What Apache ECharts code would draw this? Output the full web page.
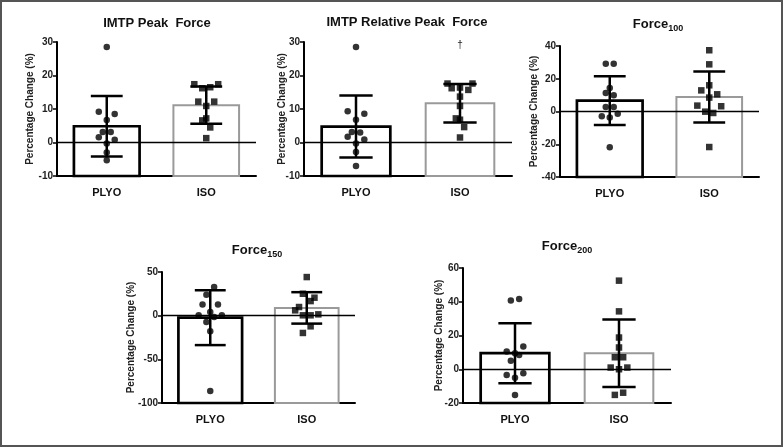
<!DOCTYPE html>
<html>
<head>
<meta charset="utf-8">
<script src="https://cdn.jsdelivr.net/npm/echarts@6/dist/echarts.min.js"></script>
<style>
html,body{margin:0;padding:0;background:#fff;}
#chart{width:783px;height:447px;}
</style>
</head>
<body>
<div id="chart"></div>
<script>
// ---------- DATA ----------
const categories = ['PLYO', 'ISO'];
const yAxisName = 'Percentage Change (%)';

// IMTP Peak Force
const peakTitle = 'IMTP Peak  Force';
const peakAxis = [-10, 30, 10]; // min, max, interval
const peakMeans = [4.85, 11.15];
const peakSd = [9.05, 5.55];
const peakPlyo = [28.5, 9.2, 8.5, 6.7, 3.1, 3.1, 1.6, 0.8, -0.3, -3.0, -5.3];
const peakPlyoJitter = [0, -1, 1, 0, -0.5, 0.5, -1, 1, 0, 0, 0];
const peakIso = [17.4, 17.4, 16.2, 16.5, 12.2, 12.2, 10.9, 7.2, 6.6, 4.5, 1.3];
const peakIsoJitter = [-1.5, 1.5, -0.5, 0.5, -1, 1, 0, 0, -0.5, 0.5, 0];

// IMTP Relative Peak Force
const relTitle = 'IMTP Relative Peak  Force';
const relAxis = [-10, 30, 10];
const relMeans = [4.75, 11.75];
const relSd = [9.25, 5.75];
const relPlyo = [28.5, 9.3, 8.6, 6.8, 3.1, 3.0, 1.7, 0.9, -0.3, -2.8, -7.0];
const relPlyoJitter = [0, -1, 1, 0, -0.5, 0.5, -1, 1, 0, 0, 0];
const relIso = [17.6, 17.6, 16.2, 15.7, 16.4, 13.7, 10.9, 7.2, 6.8, 4.6, 1.5];
const relIsoJitter = [-1.5, 1.5, -1, 1, 0, 0, 0, -0.5, 0, 0.5, 0];
const relMarkText = '†';
const relMark = [1, 28.9]; // category index, value

// Force 100
const f100Title = ['Force', '100'];
const f100Axis = [-40, 40, 20];
const f100Means = [6.6, 8.9];
const f100Sd = [14.9, 15.6];
const f100Plyo = [29.2, 29.2, 14.4, 11.3, 9.9, 2.8, 2.8, -2.9, -1.3, -3.7, -21.9];
const f100PlyoJitter = [-0.5, 0.5, 0, -0.5, 0.5, -0.5, 0.5, -1, 1, 0, 0];
const f100Iso = [37.4, 28.8, 16.0, 12.9, 10.5, 8.5, 3.6, 3.2, -0.1, -0.9, -21.7];
const f100IsoJitter = [0, 0, 0, -1, 1, 0, -1.5, 1.5, -0.5, 0.5, 0];

// Force 150
const f150Title = ['Force', '150'];
const f150Axis = [-100, 50, 50];
const f150Means = [-2.3, 8.9];
const f150Sd = [31.4, 18.0];
const f150Plyo = [32.7, 24.0, 12.9, 12.9, 4.2, 0.4, 0.4, -1.5, -7.2, -17.9, -86.4];
const f150PlyoJitter = [0.5, -0.5, -1, 1, 0, -1.5, 1.5, 0.5, -0.5, 0, 0];
const f150Iso = [44.2, 25.1, 20.6, 16.7, 9.9, 6.1, 0.4, 0.4, 1.5, -12.2, -19.8];
const f150IsoJitter = [0, -0.5, 1, 0.5, -1, -1.5, -0.5, 0.5, 1.5, 0.5, -0.5];

// Force 200
const f200Title = ['Force', '200'];
const f200Axis = [-20, 60, 20];
const f200Means = [9.5, 9.5];
const f200Sd = [17.8, 20.0];
const f200Plyo = [40.8, 41.6, 10.5, 9.5, 13.5, 8.5, 5.0, -3.4, -2.4, -5.0, -15.2];
const f200PlyoJitter = [-0.5, 0.5, -1, 0, 1, 0.5, -0.5, -1, 1, 0, 0];
const f200Iso = [52.5, 34.3, 18.8, 12.9, 7.1, 7.1, 1.0, 1.0, 0, -15.2, -13.9];
const f200IsoJitter = [0, 0, 0, 0, -0.5, 0.5, -1, 1, 0, -0.5, 0.5];

// ---------- LAYOUT ----------
const FONT = '"Liberation Sans", Arial, sans-serif';
const panels = [
  {title: peakTitle, axis: peakAxis, means: peakMeans, sd: peakSd, plyo: peakPlyo, pj: peakPlyoJitter, iso: peakIso, ij: peakIsoJitter,
   grid: {left: 57, top: 42, width: 199, height: 134}, tx: 157, ty: 23, nameGap: 22},
  {title: relTitle, axis: relAxis, means: relMeans, sd: relSd, plyo: relPlyo, pj: relPlyoJitter, iso: relIso, ij: relIsoJitter,
   grid: {left: 304, top: 42, width: 208, height: 134}, tx: 407, ty: 22, nameGap: 17, mark: true},
  {title: f100Title, axis: f100Axis, means: f100Means, sd: f100Sd, plyo: f100Plyo, pj: f100PlyoJitter, iso: f100Iso, ij: f100IsoJitter,
   grid: {left: 560, top: 46, width: 199, height: 131}, tx: 658, ty: 24, nameGap: 21},
  {title: f150Title, axis: f150Axis, means: f150Means, sd: f150Sd, plyo: f150Plyo, pj: f150PlyoJitter, iso: f150Iso, ij: f150IsoJitter,
   grid: {left: 162, top: 272, width: 193, height: 131}, tx: 257, ty: 250, nameGap: 26},
  {title: f200Title, axis: f200Axis, means: f200Means, sd: f200Sd, plyo: f200Plyo, pj: f200PlyoJitter, iso: f200Iso, ij: f200IsoJitter,
   grid: {left: 463, top: 268, width: 208, height: 135}, tx: 567, ty: 246, nameGap: 19}
];

const JIT = 0.08;      // jitter unit in category widths
const BAR_W = 0.66;    // bar width as fraction of category
const CAP = 0.16;      // half cap width in category units
const barStroke = ['#000000', '#9a9a9a'];
const barLineW = [2.7, 2];

const grids = [], xAxes = [], yAxes = [], series = [], graphics = [];

panels.forEach((p, k) => {
  grids.push(Object.assign({containLabel: false}, p.grid));
  xAxes.push({
    gridIndex: k, type: 'category', data: categories,
    axisLine: {onZero: false, lineStyle: {color: '#000', width: 2}},
    axisTick: {alignWithLabel: true, length: 4, lineStyle: {color: '#000', width: 1.5}},
    axisLabel: {fontWeight: 'bold', fontSize: 11, color: '#111', margin: 11, fontFamily: FONT}
  });
  xAxes.push({gridIndex: k, type: 'value', min: -0.5, max: 1.5, show: false});
  yAxes.push({
    gridIndex: k, type: 'value', min: p.axis[0], max: p.axis[1], interval: p.axis[2],
    name: yAxisName, nameLocation: 'middle', nameGap: p.nameGap, nameMoveOverlap: false,
    nameTextStyle: {fontWeight: 'bold', fontSize: 10, color: '#222', fontFamily: FONT},
    axisLine: {show: true, onZero: false, lineStyle: {color: '#000', width: 2}},
    axisTick: {show: true, length: 4, lineStyle: {color: '#000', width: 1.5}},
    axisLabel: {fontWeight: 'bold', fontSize: 10, color: '#222', margin: 4, fontFamily: FONT},
    splitLine: {show: false}
  });
  const xi = 2 * k + 1;
  const yMin = p.axis[0];
  // bars
  series.push({
    type: 'custom', xAxisIndex: xi, yAxisIndex: k, z: 2, silent: true,
    data: p.means.map((m, i) => [i, m, yMin]),
    renderItem: (params, api) => {
      const i = api.value(0);
      const top = api.coord([i, api.value(1)]);
      const bot = api.coord([i, api.value(2)]);
      const w = api.size([1, 0])[0] * BAR_W;
      return {
        type: 'rect',
        shape: {x: top[0] - w / 2, y: top[1], width: w, height: bot[1] - top[1]},
        style: {fill: '#fff', stroke: barStroke[i], lineWidth: barLineW[i]}
      };
    }
  });
  // zero line
  series.push({
    type: 'line', xAxisIndex: xi, yAxisIndex: k, data: [], z: 3, silent: true,
    markLine: {silent: true, symbol: 'none', label: {show: false},
      lineStyle: {color: '#000', width: 1.4, type: 'solid'}, data: [{yAxis: 0}]}
  });
  // error bars
  series.push({
    type: 'custom', xAxisIndex: xi, yAxisIndex: k, z: 4, silent: true,
    data: p.means.map((m, i) => [i, m - p.sd[i], m + p.sd[i]]),
    renderItem: (params, api) => {
      const i = api.value(0);
      const lo = api.coord([i, api.value(1)]);
      const hi = api.coord([i, api.value(2)]);
      const c = api.size([CAP, 0])[0];
      const st = {stroke: '#000', lineWidth: 2.5};
      return {type: 'group', children: [
        {type: 'line', shape: {x1: lo[0], y1: lo[1], x2: hi[0], y2: hi[1]}, style: st},
        {type: 'line', shape: {x1: hi[0] - c, y1: hi[1], x2: hi[0] + c, y2: hi[1]}, style: st},
        {type: 'line', shape: {x1: lo[0] - c, y1: lo[1], x2: lo[0] + c, y2: lo[1]}, style: st}
      ]};
    }
  });
  // points
  series.push({
    type: 'scatter', xAxisIndex: xi, yAxisIndex: k, z: 5, symbol: 'circle', symbolSize: 6.5,
    itemStyle: {color: '#000'}, silent: true,
    data: p.plyo.map((v, j) => [0 + p.pj[j] * JIT, v])
  });
  series.push({
    type: 'scatter', xAxisIndex: xi, yAxisIndex: k, z: 5, symbol: 'rect', symbolSize: 6.5,
    itemStyle: {color: '#000'}, silent: true,
    data: p.iso.map((v, j) => [1 + p.ij[j] * JIT, v])
  });
  if (p.mark) {
    series.push({
      type: 'custom', xAxisIndex: xi, yAxisIndex: k, z: 6, silent: true,
      data: [relMark],
      renderItem: (params, api) => {
        const pt = api.coord([api.value(0), api.value(1)]);
        return {type: 'text', x: pt[0], y: pt[1],
          style: {text: relMarkText, textAlign: 'center', textVerticalAlign: 'middle',
            font: '10px ' + FONT, fill: '#222'}};
      }
    });
  }
  // title
  if (Array.isArray(p.title)) {
    graphics.push({
      type: 'text', x: p.tx, y: p.ty, silent: true,
      style: {
        text: '{m|' + p.title[0] + '}{s|' + p.title[1] + '}',
        textAlign: 'center', textVerticalAlign: 'middle',
        rich: {
          m: {fontSize: 13, fontWeight: 'bold', fontFamily: FONT, fill: '#111', lineHeight: 18, verticalAlign: 'middle'},
          s: {fontSize: 9, fontWeight: 'bold', fontFamily: FONT, fill: '#111', lineHeight: 10, verticalAlign: 'bottom'}
        }
      }
    });
  } else {
    graphics.push({
      type: 'text', x: p.tx, y: p.ty, silent: true,
      style: {text: p.title, textAlign: 'center', textVerticalAlign: 'middle',
        font: 'bold 13px ' + FONT, fill: '#111'}
    });
  }
});

graphics.push({
  type: 'rect', silent: true, z: 100,
  shape: {x: 1, y: 1, width: 781, height: 445},
  style: {fill: 'none', stroke: '#555', lineWidth: 2}
});

const chart = echarts.init(document.getElementById('chart'), null, {renderer: 'canvas'});
chart.setOption({
  animation: false,
  backgroundColor: '#fff',
  textStyle: {fontFamily: FONT},
  grid: grids,
  xAxis: xAxes,
  yAxis: yAxes,
  series: series,
  graphic: graphics
});
</script>
</body>
</html>
